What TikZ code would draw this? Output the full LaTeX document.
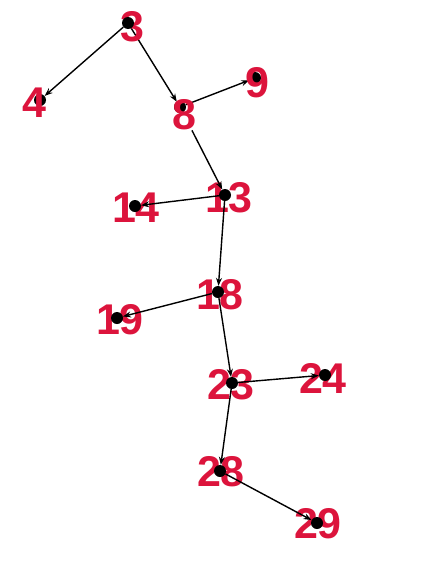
\documentclass[tikz,border=0pt]{standalone}
\usepackage{fontspec}
\setmainfont{Liberation Sans}
\usetikzlibrary{arrows.meta}
\definecolor{lblred}{RGB}{220,20,60}
\begin{document}
\begin{tikzpicture}[x=1pt,y=-1pt,
  dot/.style={circle,fill=black,inner sep=0pt,minimum size=12pt},
  lbl/.style={text=lblred,font=\fontsize{43}{43}\selectfont\bfseries,inner sep=0pt},
  edge/.style={draw=black,line width=1.4pt,-{Stealth[length=8pt,width=6pt]}}]
\useasboundingbox (0,0) rectangle (421,581);
% node positions (dots)
\node[dot] (n4) at (40,100) {};
\node[dot] (n8) at (180,107) {};
\node[dot] (n9) at (255,78) {};
\path (128,23) coordinate (p3) (225,195) coordinate (p13) (135,206) coordinate (p14)
      (218,292) coordinate (p18) (117,318) coordinate (p19) (232,383) coordinate (p23)
      (325,375) coordinate (p24) (220,471) coordinate (p28) (317,523) coordinate (p29);
\node[dot,draw=none,fill=none] (n3) at (p3) {};
% edges lying under the labels
\draw[edge] (n3) -- (n8);
\draw[edge] (n8) -- (n9);
% labels
\node[lbl] (l3) at (132,27) {3};
\node[lbl] (l4) at (34,103) {4};
\node[lbl] (l8) at (184,115) {8};
\node[lbl] (l9) at (257,83) {9};
\node[lbl] (l13) at (229,198) {13};
\node[lbl] (l14) at (136,208) {14};
\node[lbl] (l18) at (220,295) {18};
\node[lbl] (l19) at (120,320) {19};
\node[lbl] (l23) at (231,385) {23};
\node[lbl] (l24) at (323,378) {24};
\node[lbl] (l28) at (221,472) {28};
\node[lbl] (l29) at (318,524) {29};
% dots over the labels
\node[dot] (d3) at (p3) {};
\node[dot] (d13) at (p13) {};
\node[dot] (n14) at (p14) {};
\node[dot] (n18) at (p18) {};
\node[dot] (n19) at (p19) {};
\node[dot] (n23) at (p23) {};
\node[dot] (n24) at (p24) {};
\node[dot] (n28) at (p28) {};
\node[dot] (n29) at (p29) {};
% edges over the labels
\draw[edge] (d3) -- (n4);
\draw[edge,shorten <=20pt] (n8) -- (d13);
\draw[edge] (d13) -- (n14);
\draw[edge] (d13) -- (n18);
\draw[edge] (n18) -- (n19);
\draw[edge] (n18) -- (n23);
\draw[edge] (n23) -- (n24);
\draw[edge] (n23) -- (n28);
\draw[edge] (n28) -- (n29);
\end{tikzpicture}
\end{document}
